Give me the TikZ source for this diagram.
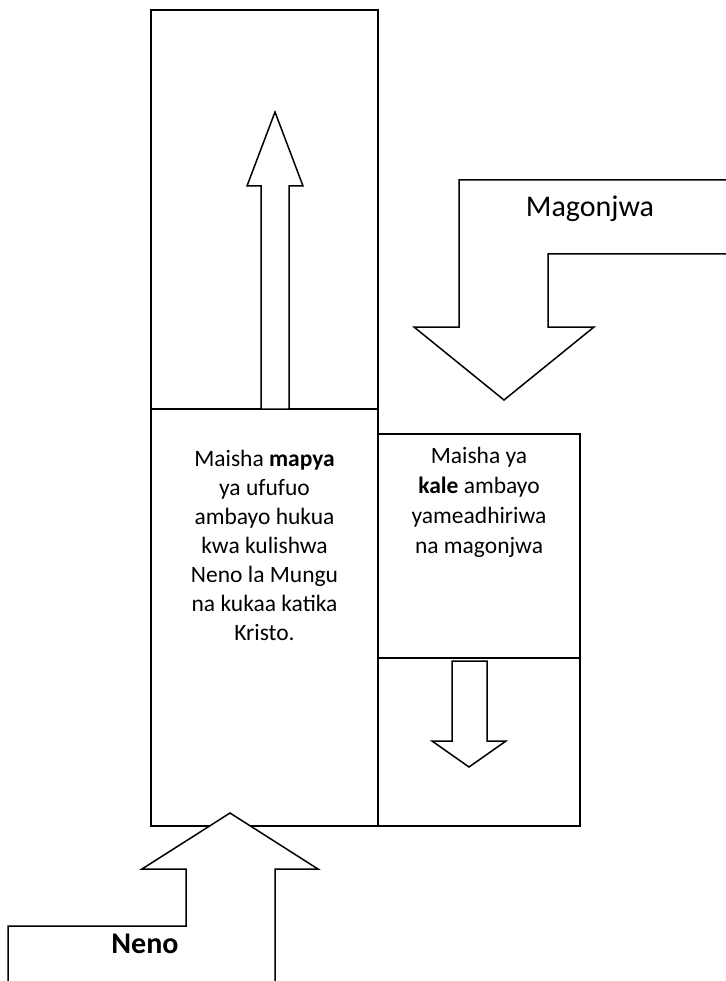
\documentclass[tikz,border=0pt]{standalone}
\usepackage{fontspec}
\setmainfont{Carlito}
\usetikzlibrary{positioning}
\tikzset{
	box/.style={
		rectangle,
		draw=black, line width=1.5pt,
		outer sep=0pt,
		inner sep=0pt,
	},
	blockarrow/.style={
		draw=black, line width=1.5pt,
		fill=white,
		line join=miter,
	},
	caption/.style={
		inner sep=0pt,
		align=center,
		font=\fontsize{23.5}{29}\selectfont,
	},
	bigcaption/.style={
		inner sep=0pt,
		font=\fontsize{30}{36}\selectfont,
	},
}

\begin{document}
\begin{tikzpicture}[x=1pt, y=-1pt]
\useasboundingbox (0,0) rectangle (725,981);

\node	(newtop)	[box, minimum width=227pt, minimum height=399pt, anchor=north west]	at (151,10)	{};
\node	(newlife)	[box, minimum width=227pt, minimum height=417pt]	[below=0pt of newtop]	{};
\node	(oldtop)	[box, minimum width=202pt, minimum height=224pt, anchor=north west]	at (378,434)	{};
\node	(oldbottom)	[box, minimum width=202pt, minimum height=168pt]	[below=0pt of oldtop]	{};

\node	(newtext)	[caption, anchor=north]	at (264.5,449.5)	{Maisha \textbf{mapya}\\ ya ufufuo\\ ambayo hukua\\ kwa kulishwa\\ Neno la Mungu\\ na kukaa katika\\ Kristo.};
\node	(oldtext)	[caption, anchor=north, font=\fontsize{23.5}{30}\selectfont]	at (479,446.5)	{Maisha ya\\ \textbf{kale} ambayo\\ yameadhiriwa\\ na magonjwa};

%\draw[blockarrow] (newlife.south) -- (newtop.north);
\draw[blockarrow] (261,409) -- (261,186) -- (247,186) -- (275,112) -- (303,186) -- (289,186) -- (289,409) -- cycle;
\draw[blockarrow] (452,661) -- (452,741) -- (432,741) -- (469,767) -- (506,741) -- (487,741) -- (487,661) -- cycle;
\draw[blockarrow] (726,180) -- (459,180) -- (459,327) -- (414,327) -- (504,400) -- (594,327) -- (548,327) -- (548,254) -- (726,254);
\draw[blockarrow] (8,982) -- (8,926) -- (186,926) -- (186,869) -- (142,869) -- (230,813) -- (318,869) -- (275,869) -- (275,982);

\node	(sick)	[bigcaption, anchor=base]	at (590,217)	{Magonjwa};
\node	(word)	[bigcaption, anchor=base]	at (145,953)	{\textbf{Neno}};

\end{tikzpicture}
\end{document}
